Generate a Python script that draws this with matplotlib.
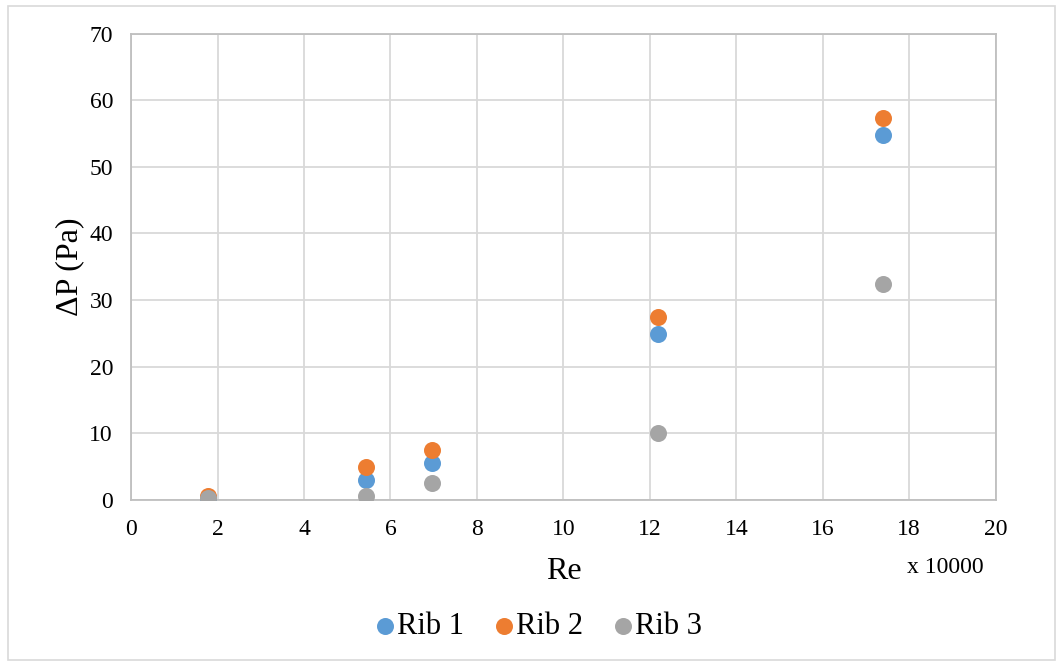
import matplotlib
matplotlib.use("Agg")
from matplotlib import pyplot as plt
from matplotlib.patches import Rectangle

# Re values (x 10000) and pressure drop in Pa
re = [1.77, 5.43, 6.96, 12.18, 17.39]
rib1 = [0.3, 3.0, 5.5, 24.9, 54.8]
rib2 = [0.5, 5.0, 7.5, 27.4, 57.3]
rib3 = [0.2, 0.5, 2.5, 10.0, 32.4]

series = [("Rib 1", rib1, "#5b9bd5"), ("Rib 2", rib2, "#ed7d31"), ("Rib 3", rib3, "#a5a5a5")]

plt.rcParams["font.family"] = ["Liberation Serif", "DejaVu Serif"]

fig = plt.figure(figsize=(10.57, 6.62), dpi=100)
ax = fig.add_axes([0.124, 0.245, 0.818, 0.704])

# outer chart border
fig.patches.append(Rectangle((0.008, 0.003), 0.99, 0.988, transform=fig.transFigure,
                             fill=False, edgecolor="#d9d9d9", linewidth=1.2))

for name, vals, color in series:
    ax.scatter(re, vals, s=150, color=color, label=name, zorder=3, linewidths=0)

ax.set_xlim(0, 20)
ax.set_ylim(0, 70)
ax.set_xticks(range(0, 21, 2))
ax.set_yticks(range(0, 71, 10))
ax.grid(True, color="#d9d9d9", linewidth=1.3)
ax.set_axisbelow(True)
for sp in ax.spines.values():
    sp.set_color("#bfbfbf")
    sp.set_linewidth(1.3)
ax.tick_params(length=0, labelsize=17)
ax.tick_params(axis="x", pad=14)
ax.tick_params(axis="y", pad=13)

ax.set_xlabel("Re", fontsize=23, labelpad=12)
ax.set_ylabel("ΔP (Pa)", fontsize=23, labelpad=4)
fig.text(0.894, 0.143, "x 10000", fontsize=17, ha="center", va="center")

fig.legend(loc="center", bbox_to_anchor=(0.504, 0.053), ncol=3, frameon=False,
           fontsize=22, handletextpad=-0.3, columnspacing=0.6, handlelength=1.4)

plt.savefig("out.png", dpi=100)
